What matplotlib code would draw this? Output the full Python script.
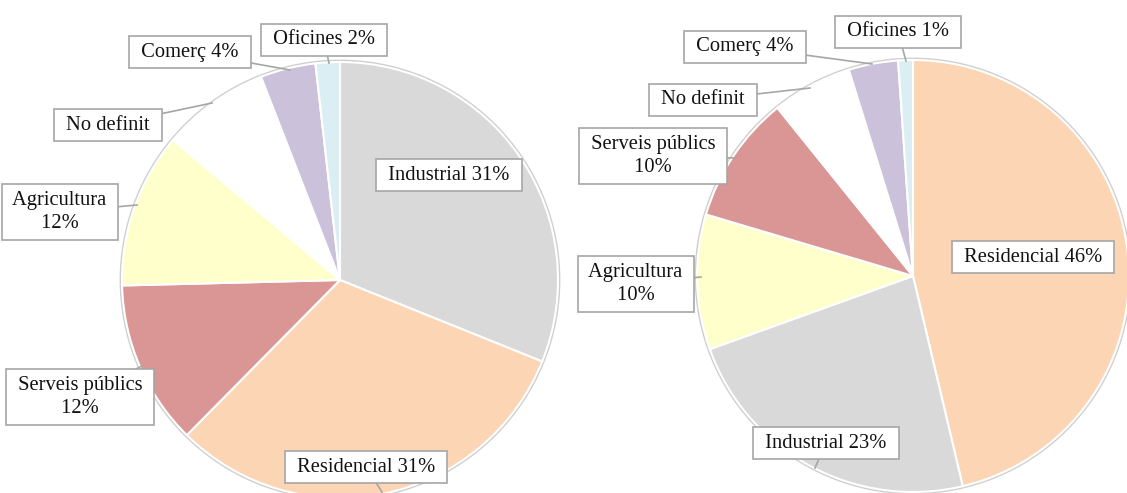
import numpy as np
import matplotlib.pyplot as plt
from matplotlib.patches import Circle

plt.rcParams['font.family'] = ['Liberation Serif', 'DejaVu Serif']

# left pie (clockwise from 12 o'clock)
left_cats = ["Industrial", "Residencial", "Serveis públics", "Agricultura",
             "No definit", "Comerç", "Oficines"]
left_vals = [31.1, 31.3, 12.2, 11.5, 8.0, 4.1, 1.8]
left_labels = ["Industrial 31%", "Residencial 31%", "Serveis públics\n12%",
               "Agricultura\n12%", "No definit", "Comerç 4%", "Oficines 2%"]

# right pie
right_cats = ["Residencial", "Industrial", "Agricultura", "Serveis públics",
              "No definit", "Comerç", "Oficines"]
right_vals = [46.3, 23.2, 10.1, 9.6, 6.0, 3.7, 1.1]
right_labels = ["Residencial 46%", "Industrial 23%", "Agricultura\n10%",
                "Serveis públics\n10%", "No definit", "Comerç 4%", "Oficines 1%"]

colors = {"Industrial": "#D9D9D9", "Residencial": "#FCD5B5",
          "Serveis públics": "#D99694", "Agricultura": "#FFFFCC",
          "No definit": "#FFFFFF", "Comerç": "#CCC1DA", "Oficines": "#DBEEF4"}

W, H = 1127, 493
fig = plt.figure(figsize=(W / 100, H / 100), dpi=100)
ax = fig.add_axes([0, 0, 1, 1])

# layout in pixel coords (y measured from top in the picture)
pies = [
    dict(cats=left_cats, vals=left_vals, labels=left_labels,
         center=(340, 280), r=218,
         # label box centre, leader end (None = no leader)
         pos=[(449, 175), (366, 467), (80, 397), (60, 212),
              (108, 125), (190, 52), (324, 40)],
         tip=[None, (382, 492), (142, 366), (137, 205),
              (212, 103), (290, 70), (329, 63)]),
    dict(cats=right_cats, vals=right_vals, labels=right_labels,
         center=(913, 276), r=216,
         pos=[(1033, 257), (826, 443), (636, 284), (653, 156),
              (703, 100), (745, 47), (898, 32)],
         tip=[None, (815, 468), (701, 277), (735, 158),
              (810, 88), (872, 64), (906, 61)]),
]

for p in pies:
    cx, cy = p["center"]
    c = (cx, H - cy)
    ax.add_patch(Circle(c, p["r"] + 1, facecolor="none",
                        edgecolor="#CFCFCF", lw=2, zorder=0))
    ax.pie(p["vals"], colors=[colors[k] for k in p["cats"]], startangle=90,
           counterclock=False, center=c, radius=p["r"],
           wedgeprops=dict(edgecolor="white", linewidth=1.5), frame=True)
    for lab, (x, y), t in zip(p["labels"], p["pos"], p["tip"]):
        if t is not None:
            ax.plot([x, t[0]], [H - y, H - t[1]], color="#A6A6A6", lw=1.2,
                    zorder=3)
        txt = "\n".join(" " + s + " " for s in lab.split("\n"))
        ax.text(x, H - y, txt, ha="center", va="center", fontsize=14.8,
                color="#111111", linespacing=1.28, zorder=4,
                bbox=dict(boxstyle="square,pad=0.33", facecolor="white",
                          edgecolor="#A6A6A6", lw=1.2))

ax.set_xlim(0, W)
ax.set_ylim(0, H)
ax.set_aspect("auto")
ax.axis("off")

fig.savefig("out.png", dpi=100)
